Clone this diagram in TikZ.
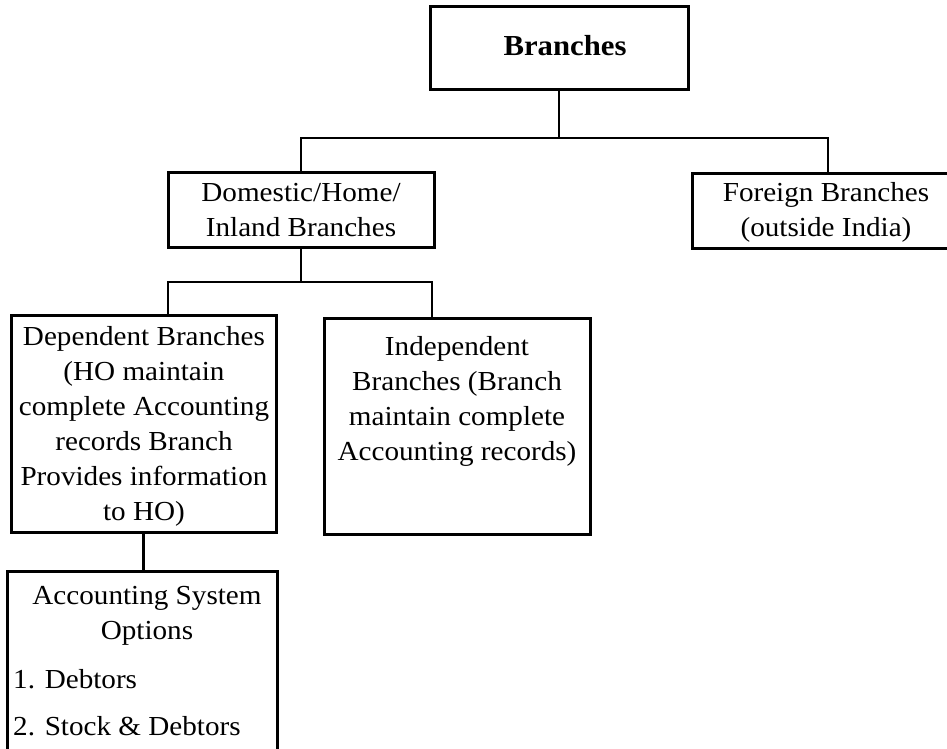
\documentclass[tikz,border=0pt]{standalone}
\usepackage{fontspec}
\setmainfont{Liberation Serif}[FakeStretch=1.06]
\begin{document}
\begin{tikzpicture}[x=1pt,y=-1pt,
  box/.style={draw, line width=3pt, rectangle, inner sep=0pt, outer sep=0pt},
  conn/.style={line width=2.6pt},
  txt/.style={align=center, inner sep=0pt, font=\fontsize{27.5}{35}\selectfont},
  lst/.style={align=left, inner sep=0pt, anchor=west, font=\fontsize{27.5}{47}\selectfont}]
\useasboundingbox (0,0) rectangle (947,749);
\clip (0,0) rectangle (947,749);
% boxes
\node[box, minimum width=258pt, minimum height=83pt] (root) at (559,48.5) {};
\node[box, minimum width=266pt, minimum height=75pt] (dom) at (301,209.5) {};
\node[box, minimum width=272pt, minimum height=75pt] (for) at (828,210.5) {};
\node[box, minimum width=265pt, minimum height=217pt] (dep) at (143.5,423.5) {};
\node[box, minimum width=266pt, minimum height=216pt] (ind) at (457,426) {};
\node[box, minimum width=270pt, minimum height=209pt] (acc) at (142,675.5) {};
% texts
\node[inner sep=0pt, font=\fontsize{29}{35}\selectfont\bfseries] (roott) at (565,46) {Branches};
\node[txt] (domt) at (301,210) {Domestic/Home/\\Inland Branches};
\node[txt] (fort) at (826,212) {Foreign Branches\\(outside India)};
\node[txt] (dept) at (144,426) {Dependent Branches\\(HO maintain\\complete Accounting\\records Branch\\Provides information\\to HO)};
\node[txt] (indt) at (457,401) {Independent\\Branches (Branch\\maintain complete\\Accounting records)};
\node[txt] (acct) at (147,616) {Accounting System\\Options};
\node[lst] (accl) at (13,703) {1. Debtors\\2. Stock \& Debtors};
% connectors
\coordinate (tj) at (559,138);
\coordinate (dj) at (168,282);
\coordinate (ij) at (432,282);
\draw[conn] (root.south) -- (tj);
\draw[conn] (dom.north) |- (tj) -| (for.north);
\draw[conn] (dom.south) -- (dom.south |- dj);
\draw[conn] (dep.north -| dj) -- (dj) -- (ij) -- (ind.north -| ij);
\draw[conn] (dep.south) -- (dep.south |- acc.north);
\end{tikzpicture}
\end{document}
